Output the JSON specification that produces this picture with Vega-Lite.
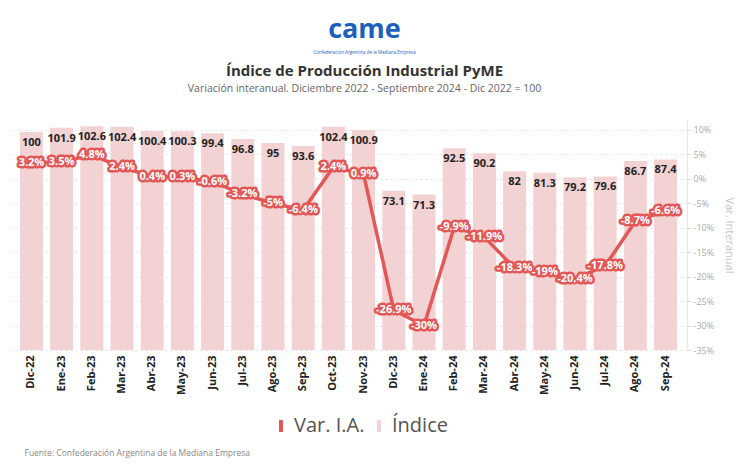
{
  "$schema": "https://vega.github.io/schema/vega-lite/v6.json",
  "background": "white",
  "autosize": {"type": "pad"},
  "padding": {"left": 10, "top": 16, "right": 18, "bottom": 10},
  "title": {
    "text": "came",
    "subtitle": "Confederación Argentina de la Mediana Empresa",
    "anchor": "middle",
    "frame": "group",
    "dx": 16,
    "font": "Open Sans",
    "fontSize": 27,
    "fontWeight": "bold",
    "color": "#1d5fbf",
    "subtitleFont": "Open Sans",
    "subtitleFontSize": 4.5,
    "subtitleColor": "#1d5fbf",
    "subtitlePadding": 6,
    "offset": 8
  },
  "data": {
    "values": [
      {"mes": "Dic-22", "indice": 100, "var": 3.2},
      {"mes": "Ene-23", "indice": 101.9, "var": 3.5},
      {"mes": "Feb-23", "indice": 102.6, "var": 4.8},
      {"mes": "Mar-23", "indice": 102.4, "var": 2.4},
      {"mes": "Abr-23", "indice": 100.4, "var": 0.4},
      {"mes": "May-23", "indice": 100.3, "var": 0.3},
      {"mes": "Jun-23", "indice": 99.4, "var": -0.6},
      {"mes": "Jul-23", "indice": 96.8, "var": -3.2},
      {"mes": "Ago-23", "indice": 95, "var": -5},
      {"mes": "Sep-23", "indice": 93.6, "var": -6.4},
      {"mes": "Oct-23", "indice": 102.4, "var": 2.4},
      {"mes": "Nov-23", "indice": 100.9, "var": 0.9},
      {"mes": "Dic-23", "indice": 73.1, "var": -26.9},
      {"mes": "Ene-24", "indice": 71.3, "var": -30},
      {"mes": "Feb-24", "indice": 92.5, "var": -9.9},
      {"mes": "Mar-24", "indice": 90.2, "var": -11.9},
      {"mes": "Abr-24", "indice": 82, "var": -18.3},
      {"mes": "May-24", "indice": 81.3, "var": -19},
      {"mes": "Jun-24", "indice": 79.2, "var": -20.4},
      {"mes": "Jul-24", "indice": 79.6, "var": -17.8},
      {"mes": "Ago-24", "indice": 86.7, "var": -8.7},
      {"mes": "Sep-24", "indice": 87.4, "var": -6.6}
    ]
  },
  "vconcat": [
    {
      "width": 677,
      "height": 230,
      "title": {
        "text": "Índice de Producción Industrial PyME",
        "subtitle": "Variación interanual. Diciembre 2022 - Septiembre 2024 - Dic 2022 = 100",
        "anchor": "middle",
        "frame": "group",
        "dx": 16,
        "font": "Open Sans",
        "fontSize": 15,
        "fontWeight": "bold",
        "color": "#333333",
        "subtitleFont": "Open Sans",
        "subtitleFontSize": 10.5,
        "subtitleColor": "#666666",
        "subtitlePadding": 5,
        "offset": 26
      },
      "transform": [{"calculate": "datum.var + '%'", "as": "varLabel"}],
      "encoding": {
        "x": {
          "field": "mes",
          "type": "nominal",
          "sort": null,
          "scale": {"paddingInner": 0.24, "paddingOuter": 0.33},
          "axis": {
            "title": "Fuente: Confederación Argentina de la Mediana Empresa",
            "titleAnchor": "start",
            "titleAlign": "left",
            "titleBaseline": "alphabetic",
            "titleX": 14,
            "titleY": 105,
            "titleFont": "Open Sans",
            "titleFontSize": 8.5,
            "titleFontWeight": "normal",
            "titleColor": "#888888",
            "labelAngle": -90,
            "labelFont": "Open Sans",
            "labelFontSize": 11,
            "labelFontWeight": "bold",
            "labelColor": "#222222",
            "labelPadding": 5,
            "ticks": false,
            "domain": false
          }
        }
      },
      "layer": [
        {
          "encoding": {
            "y": {"field": "indice", "type": "quantitative", "scale": {"domain": [0, 105.5], "nice": false}, "axis": null}
          },
          "layer": [
            {
              "mark": {"type": "bar"},
              "encoding": {
                "color": {"datum": "Índice", "scale": {"domain": ["Var. I.A.", "Índice"], "range": ["#e35757", "#f3d2d3"]}}
              }
            },
            {
              "mark": {"type": "text", "baseline": "top", "dy": 5, "font": "Open Sans", "fontSize": 11, "fontWeight": "bold", "color": "#222222"},
              "encoding": {
                "text": {"field": "indice", "type": "quantitative"}
              }
            }
          ]
        },
        {
          "encoding": {
            "y": {
              "field": "var",
              "type": "quantitative",
              "scale": {"domain": [-35, 12], "nice": false},
              "axis": {
                "orient": "right",
                "values": [-35, -30, -25, -20, -15, -10, -5, 0, 5, 10],
                "labelExpr": "datum.value + '%'",
                "labelOverlap": false,
                "labelFont": "Open Sans",
                "labelFontSize": 9,
                "labelColor": "#aaaaaa",
                "tickColor": "#dddddd",
                "tickSize": 4,
                "domainColor": "#e6e6e6",
                "grid": true,
                "gridDash": [2, 3],
                "gridColor": "#e2e2e2",
                "title": "Var. Interanual",
                "titleFont": "Open Sans",
                "titleFontSize": 11,
                "titleFontWeight": "normal",
                "titleColor": "#c4c4c4",
                "titlePadding": 10
              }
            }
          },
          "layer": [
            {
              "mark": {"type": "line", "strokeWidth": 3.5},
              "encoding": {
                "color": {"datum": "Var. I.A.", "scale": {"domain": ["Var. I.A.", "Índice"], "range": ["#e35757", "#f3d2d3"]}}
              }
            },
            {
              "mark": {"type": "text", "font": "Open Sans", "fontSize": 11, "fontWeight": "bold", "stroke": "#e35757", "strokeWidth": 5, "strokeJoin": "round", "fill": "#e35757"},
              "encoding": {
                "text": {"field": "varLabel"}
              }
            },
            {
              "mark": {"type": "text", "font": "Open Sans", "fontSize": 11, "fontWeight": "bold", "fill": "white"},
              "encoding": {
                "text": {"field": "varLabel"}
              }
            }
          ]
        }
      ],
      "resolve": {"scale": {"y": "independent"}}
    }
  ],
  "config": {
    "view": {"stroke": null},
    "font": "Open Sans",
    "legend": {
      "orient": "none",
      "legendX": 261,
      "legendY": 296,
      "direction": "horizontal",
      "title": null,
      "padding": 0,
      "labelFont": "Open Sans",
      "labelFontSize": 20,
      "labelColor": "#555555",
      "labelOffset": 3,
      "columnPadding": 4,
      "symbolType": "M-0.33,-1H0.33V1H-0.33Z",
      "symbolSize": 144,
      "symbolStrokeWidth": 0,
      "symbolOpacity": 1
    }
  }
}
